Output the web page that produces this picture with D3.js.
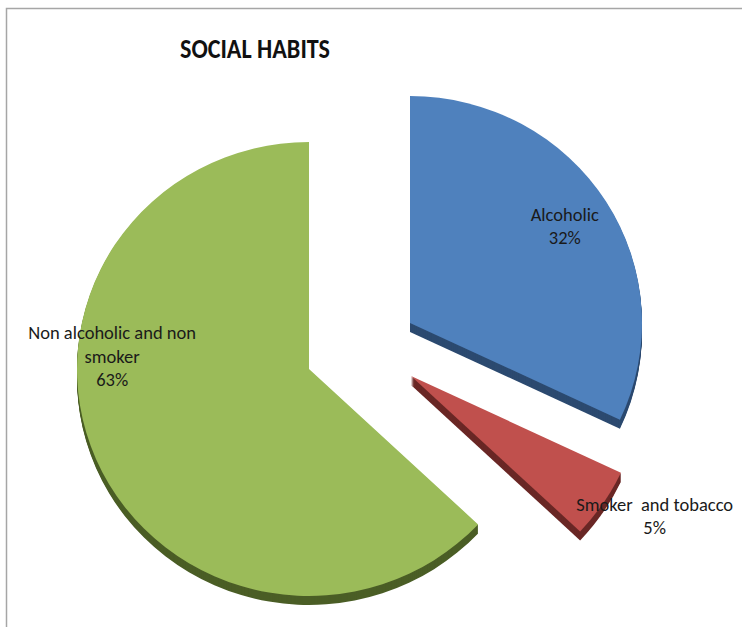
<!DOCTYPE html>
<html>
<head>
<meta charset="utf-8">
<script src="https://cdn.jsdelivr.net/npm/d3@7"></script>
<style>
  html, body { margin: 0; padding: 0; background: #fff; }
  svg { display: block; }
</style>
</head>
<body>
<svg id="chart" width="742" height="627"></svg>
<script>
// ---- data ----
const categories = ["Alcoholic", "Smoker  and tobacco", "Non alcoholic and non smoker"];
const values = [32, 5, 63];
const labelLines = [["Alcoholic"], ["Smoker  and tobacco"], ["Non alcoholic and non", "smoker"]];
const chartTitle = "SOCIAL HABITS";

// ---- styling / layout ----
const topColors = ["#4F81BD", "#C0504D", "#9BBB59"];
const sideColors = ["#2C4A70", "#6A2826", "#4B5E26"];
const center = { x: 309, y: 369 };
const rx = 232, ry = 227, depth = 9;
const tilt = ry / rx;
// per-slice explode displacement (px)
const explode = [[101, -46], [102, 7], [0, 0]];
// label placement: polar angle (deg, clockwise from top; null = slice mid-angle) and radius fraction
const labelPlace = [{ angle: null, r: 0.79 }, { angle: 120.6, r: 1.22 }, { angle: 273.5, r: 0.85 }];
const lineHeight = 23.5;

const svg = d3.select("#chart");

// outer frame
svg.append("rect")
  .attr("x", 6.5).attr("y", 8.5)
  .attr("width", 800).attr("height", 800)
  .attr("fill", "none")
  .attr("stroke", "#a6a6a6")
  .attr("stroke-width", 1.5);

// title
svg.append("text")
  .attr("x", 255).attr("y", 58)
  .attr("text-anchor", "middle")
  .attr("font-family", "Carlito, Calibri, 'Open Sans', sans-serif")
  .attr("font-weight", "bold")
  .attr("font-size", 29)
  .attr("textLength", 150)
  .attr("lengthAdjust", "spacingAndGlyphs")
  .attr("fill", "#111")
  .text(chartTitle);

const pie = d3.pie().sort(null).value(d => d)(values);
const arc = d3.arc().innerRadius(0).outerRadius(rx);

const slices = svg.append("g");

pie.forEach((p, i) => {
  const g = slices.append("g")
    .attr("transform", `translate(${center.x + explode[i][0]},${center.y + explode[i][1]})`);

  // extruded body: stacked copies of the slice shape in the side colour
  for (let k = depth; k >= 1; k--) {
    g.append("path")
      .attr("transform", `translate(0,${k}) scale(1,${tilt})`)
      .attr("d", arc(p))
      .attr("fill", sideColors[i]);
  }
  // top face
  g.append("path")
    .attr("transform", `scale(1,${tilt})`)
    .attr("d", arc(p))
    .attr("fill", topColors[i]);
});

// data labels
const labels = svg.append("g")
  .attr("font-family", "Carlito, Calibri, 'Liberation Sans', sans-serif")
  .attr("font-size", 18.5)
  .attr("fill", "#1a1a1a")
  .attr("text-anchor", "middle");

pie.forEach((p, i) => {
  const ang = labelPlace[i].angle == null ? (p.startAngle + p.endAngle) / 2 : labelPlace[i].angle * Math.PI / 180;
  const r = labelPlace[i].r * rx;
  const cx = center.x + explode[i][0] + r * Math.sin(ang);
  const cy = center.y + explode[i][1] - r * Math.cos(ang) * tilt;
  const lines = labelLines[i].concat([values[i] + "%"]);
  const first = cy - (lines.length - 1) * lineHeight / 2 + 5.5;
  const t = labels.append("text");
  lines.forEach((ln, j) => {
    t.append("tspan")
      .attr("x", cx)
      .attr("y", first + j * lineHeight)
      .attr("xml:space", "preserve")
      .style("white-space", "pre")
      .text(ln);
  });
});
</script>
</body>
</html>
